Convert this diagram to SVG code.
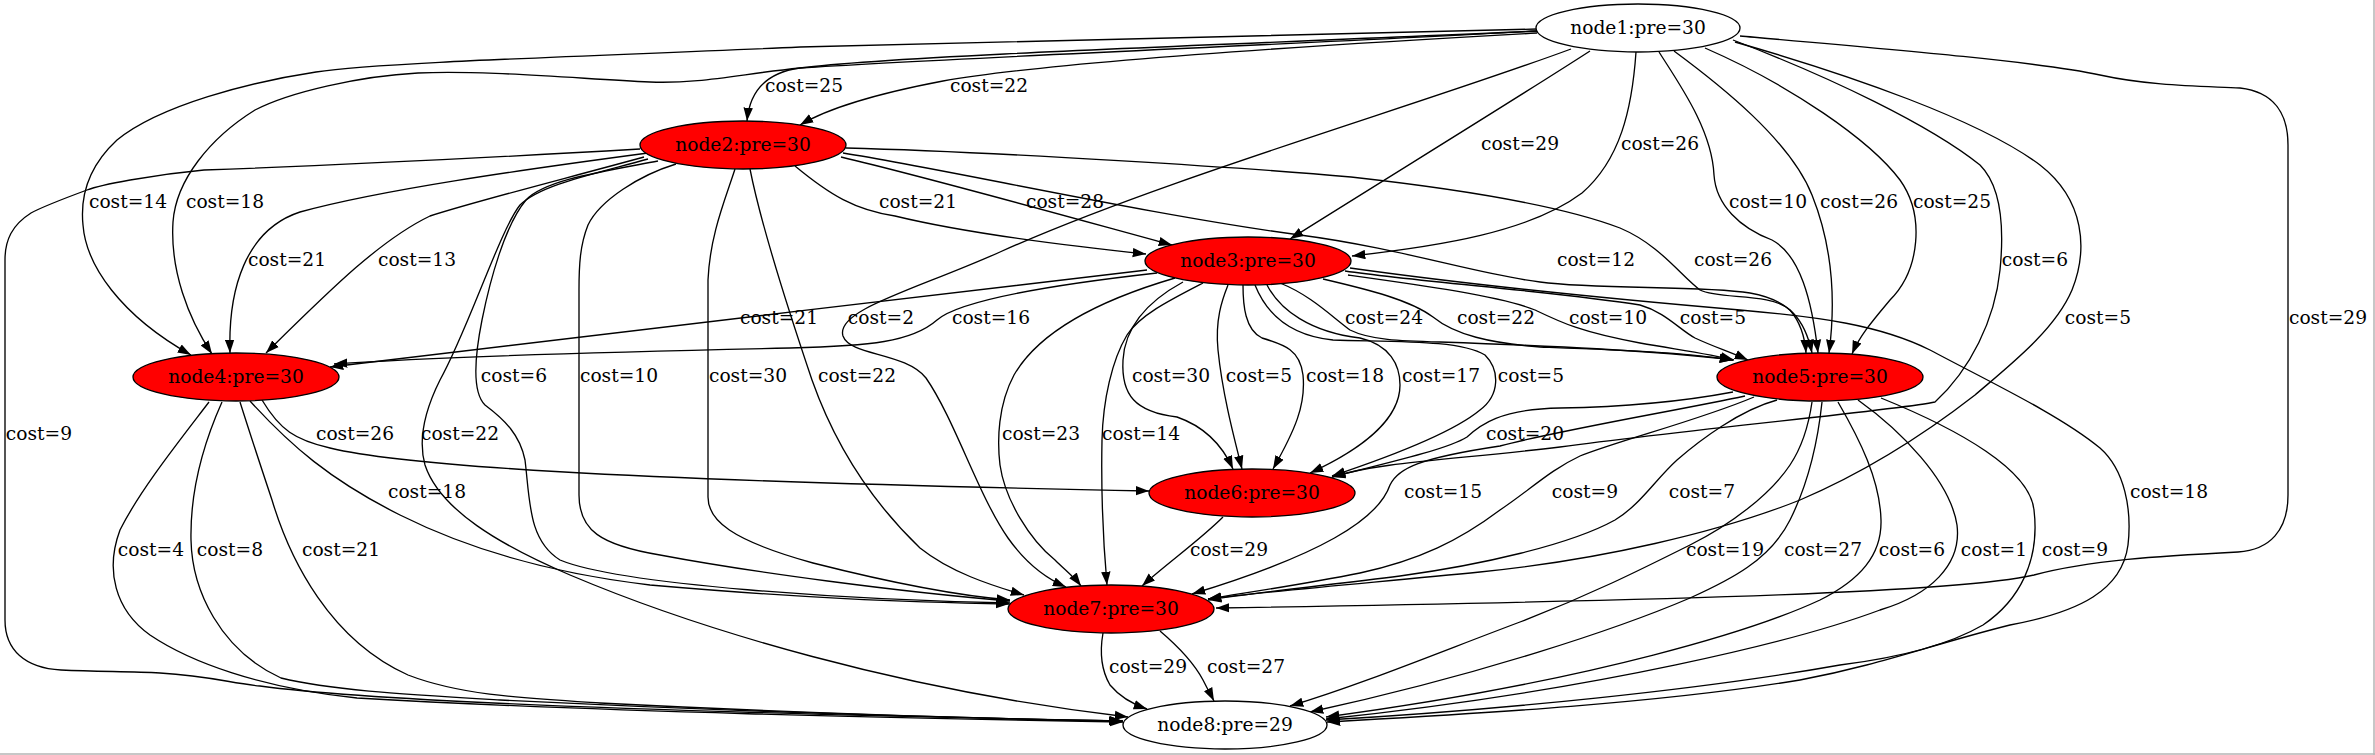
<svg xmlns="http://www.w3.org/2000/svg" width="2375" height="755" viewBox="0 0 2375 755">
<style>
.e{fill:none;stroke:#000;stroke-width:1.33;marker-end:url(#a)}
.n{stroke:#000;stroke-width:1.33}
.r{fill:#ff0000}
.w{fill:#fff}
text{font-family:"DejaVu Serif","Liberation Serif",serif;font-size:18.67px;fill:#000;text-anchor:middle}
</style>
<defs>
<marker id="a" markerWidth="14" markerHeight="10" refX="13.3" refY="5" orient="auto" markerUnits="userSpaceOnUse"><path d="M0,0.3 L13.3,5 L0,9.7 z" fill="#000"/></marker>
</defs>
<rect x="0" y="0" width="2375" height="755" fill="#fff"/>
<line x1="2374" y1="0" x2="2374" y2="755" stroke="#b4b4b4" stroke-width="1.5"/>
<line x1="0" y1="754" x2="2375" y2="754" stroke="#b4b4b4" stroke-width="1.5"/>
<g id="edges">
<path class="e" d="M1537,31 C1300,42 900,55 800,68 C770,72 750,88 747,121"/>
<path class="e" d="M1537,33 C1300,46 1050,62 943,81 C880,93 830,107 800,125"/>
<path class="e" d="M1537,29 C1200,37 950,42 800,47 C600,56 380,62 316,72 C250,82 160,105 117,140 C90,165 80,195 83,225 C86,265 120,315 191,355"/>
<path class="e" d="M1537,31 C1300,44 950,58 800,68 C740,74 700,84 650,82 C570,78 480,70 418,73 C360,76 290,92 255,110 C210,138 176,180 173,222 C170,270 188,318 212,354"/>
<path class="e" d="M1590,51 C1530,90 1400,170 1290,239"/>
<path class="e" d="M1636,52 C1632,110 1620,160 1582,193 C1530,232 1440,246 1352,256"/>
<path class="e" d="M1659,52 C1680,85 1712,130 1714,175 C1716,205 1740,228 1772,240 C1800,255 1812,300 1818,353"/>
<path class="e" d="M1674,51 C1720,85 1790,140 1812,195 C1832,245 1836,300 1829,353"/>
<path class="e" d="M1705,48 C1790,85 1870,140 1900,180 C1925,215 1920,270 1890,300 C1875,318 1860,335 1852,354"/>
<path class="e" d="M1733,40 C1830,77 1930,125 1980,165 C2005,190 2003,240 2000,270 C1995,320 1970,370 1935,402 C1900,410 1700,428 1560,447 C1450,460 1380,462 1332,477"/>
<path class="e" d="M1735,42 C1850,75 1980,120 2040,165 C2085,200 2088,250 2072,290 C2055,330 2010,365 1975,395 C1930,430 1870,470 1800,500 C1720,532 1600,560 1480,572 C1380,582 1280,590 1208,599"/>
<path class="e" d="M1740,36 C1900,50 2040,62 2100,75 C2150,86 2200,86 2240,88 C2275,92 2288,115 2288,145 L2288,495 C2288,530 2270,550 2238,552 C2160,556 2090,560 2034,575 C1960,592 1700,600 1216,608"/>
<path class="e" d="M1571,49 C1420,105 1160,180 1000,252 C915,290 835,310 843,336 C850,356 905,352 926,378 C955,420 978,495 1008,538 C1025,562 1045,578 1066,587"/>
<path class="e" d="M795,166 C830,195 855,210 895,216 C965,233 1060,245 1146,254"/>
<path class="e" d="M841,157 C930,178 1080,220 1172,245"/>
<path class="e" d="M648,153 C520,170 380,190 300,212 C245,230 228,290 230,353"/>
<path class="e" d="M644,157 C560,180 480,200 430,216 C380,240 330,290 266,353"/>
<path class="e" d="M843,153 C950,170 1150,215 1300,235 C1400,248 1480,275 1540,282 C1600,290 1700,285 1750,293 C1790,300 1805,320 1812,353"/>
<path class="e" d="M846,148 C1000,152 1250,168 1351,177 C1450,188 1560,205 1620,228 C1660,245 1680,275 1700,290 C1720,300 1770,292 1790,310 C1800,322 1805,338 1806,353"/>
<path class="e" d="M658,161 C600,172 545,180 526,200 C505,225 490,280 482,320 C475,355 472,392 485,405 C505,420 520,435 525,460 C530,500 528,540 560,560 C620,585 850,600 1010,603"/>
<path class="e" d="M676,164 C640,175 600,200 588,225 C580,245 579,265 579,290 L579,495 C579,530 600,545 660,555 C750,572 900,592 1010,601"/>
<path class="e" d="M735,169 C725,200 710,235 708,280 L708,497 C708,520 730,540 813,563 C880,580 950,595 1010,600"/>
<path class="e" d="M750,169 C760,220 785,300 812,380 C835,445 870,500 920,548 C950,572 990,585 1024,595"/>
<path class="e" d="M640,149 C450,160 260,168 204,170 C150,175 100,185 87,190 C60,200 40,208 31,213 C12,225 5,240 5,260 L5,620 C5,650 25,668 61,670 C100,672 130,671 160,673 C210,676 230,683 260,686 C400,705 800,715 1122,721"/>
<path class="e" d="M648,159 C590,175 540,185 520,205 C500,230 468,330 440,380 C425,410 418,440 425,465 C440,510 500,545 570,575 C700,630 900,690 1128,717"/>
<path class="e" d="M1147,270 C900,300 500,345 330,367"/>
<path class="e" d="M1157,273 C1050,285 960,300 937,320 C912,342 870,346 790,348 C600,352 420,358 334,364"/>
<path class="e" d="M1280,283 C1310,295 1330,315 1350,330 C1370,340 1400,341 1440,342 C1550,346 1650,350 1733,360"/>
<path class="e" d="M1323,279 C1370,290 1410,300 1433,317 C1455,335 1490,343 1540,347 C1620,350 1680,352 1733,360"/>
<path class="e" d="M1348,275 C1420,285 1500,296 1535,310 C1560,322 1580,332 1640,343 C1680,350 1710,354 1734,360"/>
<path class="e" d="M1345,271 C1420,282 1560,292 1640,305 C1665,312 1680,330 1695,338 C1712,346 1730,352 1748,360"/>
<path class="e" d="M1350,268 C1450,282 1600,298 1740,310 C1820,317 1880,325 1930,350 C1990,382 2060,415 2100,448 C2125,470 2132,510 2128,545 C2122,590 2080,612 2010,625 C1930,645 1880,665 1800,680 C1650,705 1450,715 1327,722"/>
<path class="e" d="M1183,282 C1150,300 1125,325 1123,360 C1121,395 1135,412 1177,417 C1200,425 1220,440 1233,469"/>
<path class="e" d="M1228,285 C1222,300 1215,320 1218,350 C1222,390 1232,430 1242,469"/>
<path class="e" d="M1243,285 C1243,305 1245,330 1262,338 C1285,345 1300,350 1303,375 C1306,405 1295,430 1273,469"/>
<path class="e" d="M1267,285 C1280,310 1310,332 1360,338 C1390,345 1400,365 1400,385 C1400,420 1360,450 1310,473"/>
<path class="e" d="M1255,285 C1265,310 1285,335 1333,340 C1400,342 1460,340 1485,355 C1500,370 1500,395 1480,410 C1450,435 1380,460 1332,476"/>
<path class="e" d="M1175,278 C1100,300 1040,330 1014,375 C998,405 997,440 1000,465 C1005,500 1030,540 1055,560 C1065,570 1075,578 1081,586"/>
<path class="e" d="M1203,283 C1170,300 1140,315 1127,335 C1112,360 1103,400 1102,440 C1101,490 1103,540 1107,585"/>
<path class="e" d="M262,400 C280,430 295,440 330,448 C400,465 600,480 1149,491"/>
<path class="e" d="M250,401 C290,445 330,480 400,515 C460,545 540,572 650,585 C800,598 900,602 1009,604"/>
<path class="e" d="M209,402 C180,440 140,490 120,530 C105,570 115,610 150,635 C190,662 260,688 357,698 C600,712 900,718 1123,722"/>
<path class="e" d="M222,402 C205,440 190,490 191,540 C192,590 220,650 281,678 C330,690 400,694 500,700 C700,710 900,717 1123,721"/>
<path class="e" d="M240,402 C252,440 262,470 272,500 C290,560 330,640 408,675 C460,695 520,698 600,703 C800,713 1000,719 1123,721"/>
<path class="e" d="M1733,392 C1680,402 1620,407 1560,408 C1500,409 1480,425 1467,437 C1450,448 1400,460 1332,477"/>
<path class="e" d="M1745,396 C1680,410 1560,430 1500,446 C1420,458 1398,468 1390,485 C1378,520 1320,555 1192,594"/>
<path class="e" d="M1754,397 C1700,420 1620,440 1580,456 C1550,470 1530,490 1500,510 C1460,540 1420,560 1360,573 C1300,585 1250,592 1208,599"/>
<path class="e" d="M1777,400 C1740,410 1700,440 1677,460 C1655,480 1640,505 1615,520 C1570,545 1480,565 1400,576 C1320,586 1260,592 1208,600"/>
<path class="e" d="M1812,402 C1808,430 1800,450 1790,465 C1770,495 1730,525 1690,545 C1640,570 1590,595 1520,622 C1440,652 1360,685 1290,706"/>
<path class="e" d="M1822,402 C1818,440 1810,480 1790,520 C1770,560 1730,580 1690,598 C1620,628 1480,675 1310,712"/>
<path class="e" d="M1838,402 C1860,440 1880,480 1881,520 C1882,555 1860,580 1820,600 C1760,628 1600,680 1326,717"/>
<path class="e" d="M1858,400 C1900,430 1950,480 1957,525 C1962,565 1930,595 1880,610 C1800,640 1600,690 1326,719"/>
<path class="e" d="M1881,398 C1960,430 2030,470 2034,510 C2040,560 2020,600 1983,625 C1940,650 1880,660 1840,665 C1700,690 1500,710 1326,720"/>
<path class="e" d="M1223,517 C1200,540 1165,565 1142,586"/>
<path class="e" d="M1103,633 C1100,650 1100,668 1110,685 C1120,697 1135,705 1147,709"/>
<path class="e" d="M1160,631 C1180,648 1195,665 1203,680 C1208,690 1212,697 1214,701"/>
</g>
<g id="edge-labels">
<text x="804" y="92">cost=25</text>
<text x="989" y="92">cost=22</text>
<text x="1520" y="150">cost=29</text>
<text x="1660" y="150">cost=26</text>
<text x="128" y="208">cost=14</text>
<text x="225" y="208">cost=18</text>
<text x="918" y="208">cost=21</text>
<text x="1065" y="208">cost=28</text>
<text x="1768" y="208">cost=10</text>
<text x="1859" y="208">cost=26</text>
<text x="1952" y="208">cost=25</text>
<text x="287" y="266">cost=21</text>
<text x="417" y="266">cost=13</text>
<text x="1596" y="266">cost=12</text>
<text x="1733" y="266">cost=26</text>
<text x="2035" y="266">cost=6</text>
<text x="779" y="324">cost=21</text>
<text x="881" y="324">cost=2</text>
<text x="991" y="324">cost=16</text>
<text x="1384" y="324">cost=24</text>
<text x="1496" y="324">cost=22</text>
<text x="1608" y="324">cost=10</text>
<text x="1713" y="324">cost=5</text>
<text x="2098" y="324">cost=5</text>
<text x="2328" y="324">cost=29</text>
<text x="514" y="382">cost=6</text>
<text x="619" y="382">cost=10</text>
<text x="748" y="382">cost=30</text>
<text x="857" y="382">cost=22</text>
<text x="1171" y="382">cost=30</text>
<text x="1259" y="382">cost=5</text>
<text x="1345" y="382">cost=18</text>
<text x="1441" y="382">cost=17</text>
<text x="1531" y="382">cost=5</text>
<text x="39" y="440">cost=9</text>
<text x="355" y="440">cost=26</text>
<text x="460" y="440">cost=22</text>
<text x="1041" y="440">cost=23</text>
<text x="1141" y="440">cost=14</text>
<text x="1525" y="440">cost=20</text>
<text x="427" y="498">cost=18</text>
<text x="1443" y="498">cost=15</text>
<text x="1585" y="498">cost=9</text>
<text x="1702" y="498">cost=7</text>
<text x="2169" y="498">cost=18</text>
<text x="151" y="556">cost=4</text>
<text x="230" y="556">cost=8</text>
<text x="341" y="556">cost=21</text>
<text x="1229" y="556">cost=29</text>
<text x="1725" y="556">cost=19</text>
<text x="1823" y="556">cost=27</text>
<text x="1912" y="556">cost=6</text>
<text x="1994" y="556">cost=1</text>
<text x="2075" y="556">cost=9</text>
<text x="1148" y="673">cost=29</text>
<text x="1246" y="673">cost=27</text>
</g>
<g id="node1"><ellipse class="n w" cx="1638" cy="28" rx="102" ry="24"/><text x="1638" y="34">node1:pre=30</text></g>
<g id="node2"><ellipse class="n r" cx="743" cy="145" rx="103" ry="24"/><text x="743" y="151">node2:pre=30</text></g>
<g id="node3"><ellipse class="n r" cx="1248" cy="261" rx="103" ry="24"/><text x="1248" y="267">node3:pre=30</text></g>
<g id="node4"><ellipse class="n r" cx="236" cy="377" rx="103" ry="24"/><text x="236" y="383">node4:pre=30</text></g>
<g id="node5"><ellipse class="n r" cx="1820" cy="377" rx="103" ry="24"/><text x="1820" y="383">node5:pre=30</text></g>
<g id="node6"><ellipse class="n r" cx="1252" cy="493" rx="103" ry="24"/><text x="1252" y="499">node6:pre=30</text></g>
<g id="node7"><ellipse class="n r" cx="1111" cy="609" rx="103" ry="24"/><text x="1111" y="615">node7:pre=30</text></g>
<g id="node8"><ellipse class="n w" cx="1225" cy="725" rx="102" ry="24"/><text x="1225" y="731">node8:pre=29</text></g>
</svg>
